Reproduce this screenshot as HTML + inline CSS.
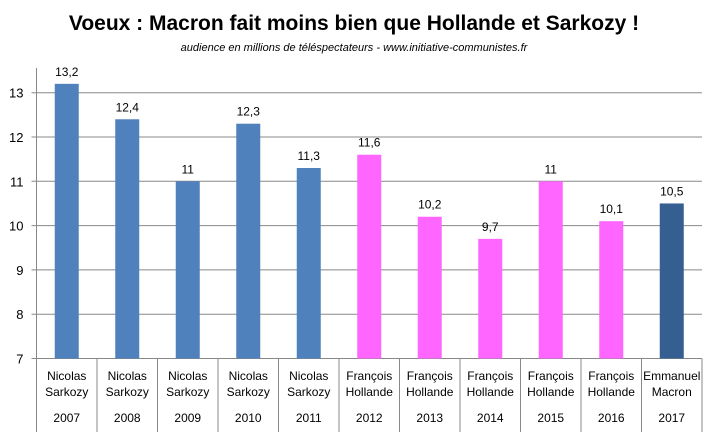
<!DOCTYPE html>
<html><head><meta charset="utf-8"><style>
body{margin:0;background:#fff;}
svg text{font-family:"Liberation Sans",sans-serif;}
</style></head><body>
<svg width="708" height="432" xmlns="http://www.w3.org/2000/svg">
<text x="354" y="30" text-anchor="middle" font-size="21" font-weight="bold">Voeux : Macron fait moins bien que Hollande et Sarkozy !</text>
<text x="354" y="51" text-anchor="middle" font-size="11" font-style="italic">audience en millions de téléspectateurs  - www.initiative-communistes.fr</text>
<g id="grid"></g><g id="bars"></g><g id="axes"></g>
</svg>
<script>
const years=["2007","2008","2009","2010","2011","2012","2013","2014","2015","2016","2017"];
const names1=["Nicolas","Nicolas","Nicolas","Nicolas","Nicolas","François","François","François","François","François","Emmanuel"];
const names2=["Sarkozy","Sarkozy","Sarkozy","Sarkozy","Sarkozy","Hollande","Hollande","Hollande","Hollande","Hollande","Macron"];
const values=[13.2,12.4,11,12.3,11.3,11.6,10.2,9.7,11,10.1,10.5];
const labels=["13,2","12,4","11","12,3","11,3","11,6","10,2","9,7","11","10,1","10,5"];
const colors=["#4f81bd","#4f81bd","#4f81bd","#4f81bd","#4f81bd","#ff66ff","#ff66ff","#ff66ff","#ff66ff","#ff66ff","#355f91"];
const yTicks=[7,8,9,10,11,12,13];
const NS="http://www.w3.org/2000/svg";
const x0=36.5,x1=702,yBase=358.5,yMin=7,pxPer=44.3,bw=(x1-x0)/values.length;
const y=v=>yBase-(v-yMin)*pxPer;
function mk(p,t,a){const e=document.createElementNS(NS,t);for(const k in a)e.setAttribute(k,a[k]);p.appendChild(e);return e;}
const grid=document.getElementById('grid'),bars=document.getElementById('bars'),axes=document.getElementById('axes');
yTicks.forEach(t=>{
 const l=mk(grid,'line',{x1:x0-5,x2:x1,y1:y(t),y2:y(t),stroke:'#888','stroke-width':1});
 
 
 const tx=mk(axes,'text',{x:x0-13,y:y(t)+5,'text-anchor':'end','font-size':13});
 tx.textContent=t;
 
 
});
const ax=mk(axes,'line',{x1:x0,x2:x0,y1:68,y2:432,stroke:'#888'});


values.forEach((v,i)=>{
 const cx=x0+bw*(i+0.5);
 const r=mk(bars,'rect',{x:cx-12,y:y(v),width:24,height:yBase-y(v),fill:colors[i]});
 
 
 const t=mk(bars,'text',{x:cx,y:y(v)-8,'text-anchor':'middle','font-size':12});
 t.textContent=labels[i];
 
 
 const sep=mk(axes,'line',{x1:x0+bw*(i+1),x2:x0+bw*(i+1),y1:yBase,y2:432,stroke:'#888'});
 
 
 [[names1[i],380],[names2[i],396],[years[i],422]].forEach(([s,yy])=>{
  const c=mk(axes,'text',{x:cx,y:yy,'text-anchor':'middle','font-size':12});
  c.textContent=s;
  
  
 });
});
</script>
</body></html>
